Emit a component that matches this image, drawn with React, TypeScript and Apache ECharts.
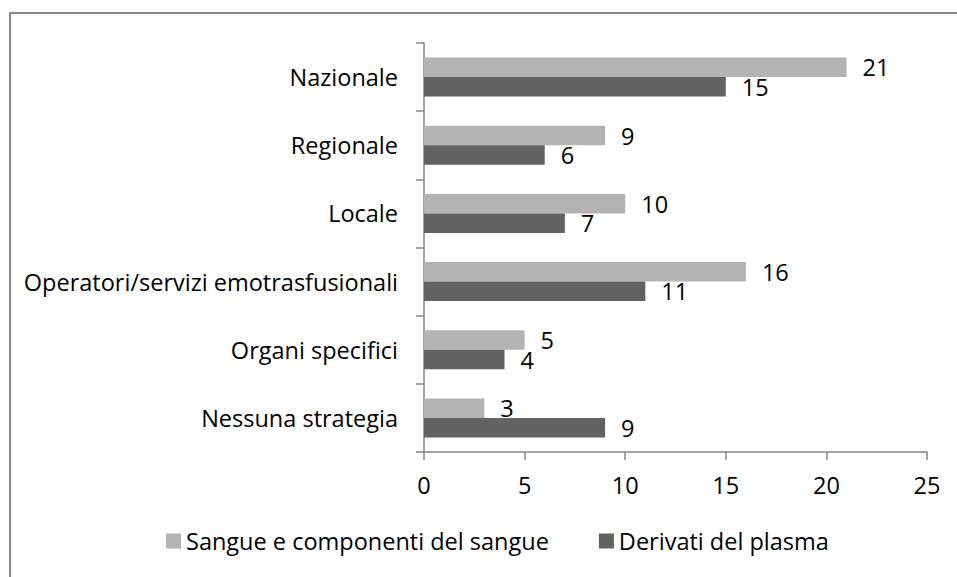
import React, { useEffect, useRef } from "react";
import * as echarts from "echarts";

const categories = [
  "Nazionale",
  "Regionale",
  "Locale",
  "Operatori/servizi emotrasfusionali",
  "Organi specifici",
  "Nessuna strategia",
];
const sangueValues = [21, 9, 10, 16, 5, 3];
const plasmaValues = [15, 6, 7, 11, 4, 9];
const seriesNames = ["Sangue e componenti del sangue", "Derivati del plasma"];
const xMin = 0;
const xMax = 25;
const xInterval = 5;

const FONT = "'Open Sans', 'Liberation Sans', sans-serif";
const FS = 23.5;
const AXIS_COLOR = "#868686";

export default function App() {
  const ref = useRef<HTMLDivElement>(null);
  useEffect(() => {
    if (!ref.current) return;
    const chart = echarts.init(ref.current, undefined, { renderer: "svg" });
    const labelStyle = {
      show: true,
      position: "right" as const,
      distance: 16,
      color: "#000",
      fontFamily: FONT,
      fontSize: FS,
    };
    chart.setOption({
      animation: false,
      backgroundColor: "#fff",
      textStyle: { fontFamily: FONT },
      graphic: [
        {
          type: "rect",
          shape: { x: 10, y: 13, width: 1200, height: 1200 },
          style: { fill: "none", stroke: "#878787", lineWidth: 2 },
          silent: true,
        },
      ],
      grid: { left: 424, top: 43, width: 503, height: 409, containLabel: false },
      legend: {
        bottom: 19,
        left: 161,
        itemWidth: 15,
        itemHeight: 15,
        itemGap: 50,
        icon: "rect",
        textStyle: { color: "#000", fontFamily: FONT, fontSize: FS },
        data: seriesNames,
      },
      xAxis: {
        type: "value",
        min: xMin,
        max: xMax,
        interval: xInterval,
        axisLine: { show: true, lineStyle: { color: AXIS_COLOR, width: 1.5 } },
        axisTick: { show: true, length: 8, lineStyle: { color: AXIS_COLOR, width: 1.5 } },
        splitLine: { show: false },
        axisLabel: { color: "#000", fontFamily: FONT, fontSize: FS, margin: 21 },
      },
      yAxis: {
        type: "category",
        inverse: true,
        data: categories,
        axisLine: { show: true, lineStyle: { color: AXIS_COLOR, width: 1.5 } },
        axisTick: { show: true, length: 8, lineStyle: { color: AXIS_COLOR, width: 1.5 } },
        axisLabel: { color: "#000", fontFamily: FONT, fontSize: FS, margin: 26 },
      },
      series: [
        {
          name: seriesNames[0],
          type: "bar",
          data: sangueValues,
          barWidth: 19.5,
          barGap: "0%",
          itemStyle: { color: "#b3b3b3" },
          label: labelStyle,
        },
        {
          name: seriesNames[1],
          type: "bar",
          data: plasmaValues,
          barWidth: 19.5,
          barGap: "0%",
          itemStyle: { color: "#626262" },
          label: labelStyle,
        },
      ],
    });
    return () => chart.dispose();
  }, []);
  return (
    <div
      ref={ref}
      style={{ position: "absolute", left: 0, top: 0, width: 957, height: 577 }}
    />
  );
}
